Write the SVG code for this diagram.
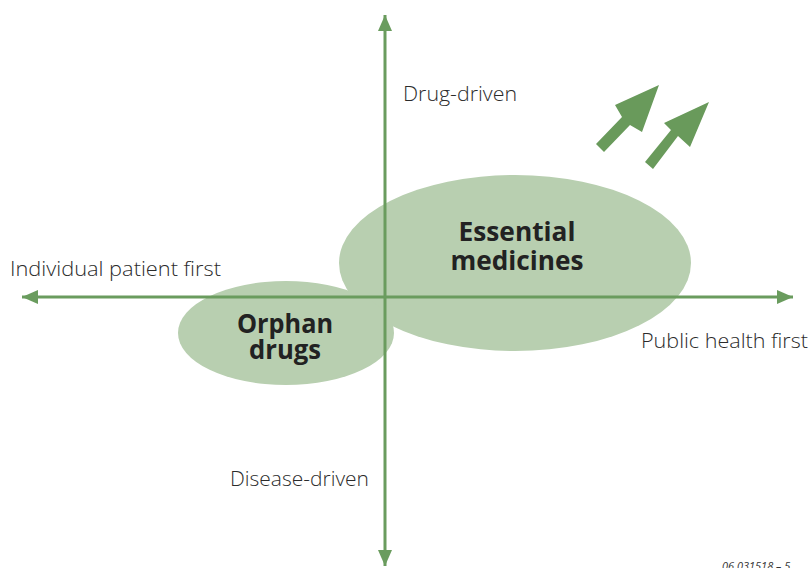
<svg xmlns="http://www.w3.org/2000/svg" width="811" height="568" viewBox="0 0 811 568">
<style>
.lbl{font-family:"Open Sans","Noto Sans","Liberation Sans",sans-serif;font-size:20px;fill:#2b2b2b;font-weight:300}
.big{font-family:"Open Sans","Noto Sans","Liberation Sans",sans-serif;font-size:27px;font-weight:700;fill:#222;text-anchor:middle}
.axis{stroke:#6a9c5e;stroke-width:3;fill:none}
.ell{fill:#b8cfb0}
.arr{fill:#699a5b}
</style>
<defs>
<marker id="ah" viewBox="0 0 16 14" refX="16" refY="7" markerWidth="16" markerHeight="14" markerUnits="userSpaceOnUse" orient="auto">
<path d="M0,0 L16,7 L0,14 Z" fill="#6a9c5e"/>
</marker>
</defs>
<rect width="811" height="568" fill="#fff"/>
<g id="essential-medicines">
<ellipse class="ell" cx="515" cy="263" rx="176" ry="88"/>
</g>
<g id="orphan-drugs">
<ellipse class="ell" cx="286" cy="333" rx="108" ry="52"/>
</g>
<g id="connectors">
<line class="axis" x1="385" y1="297" x2="22" y2="297" marker-end="url(#ah)"/>
<line class="axis" x1="385" y1="297" x2="793" y2="297" marker-end="url(#ah)"/>
<line class="axis" x1="385" y1="297" x2="385" y2="15" marker-end="url(#ah)"/>
<line class="axis" x1="385" y1="297" x2="385" y2="566" marker-end="url(#ah)"/>
</g>
<g id="essential-label">
<text class="big" x="517" y="241" textLength="117" lengthAdjust="spacingAndGlyphs">Essential</text>
<text class="big" x="517" y="270" textLength="133" lengthAdjust="spacingAndGlyphs">medicines</text>
</g>
<g id="orphan-label">
<text class="big" x="285" y="333" textLength="96" lengthAdjust="spacingAndGlyphs">Orphan</text>
<text class="big" x="285" y="359" textLength="72" lengthAdjust="spacingAndGlyphs">drugs</text>
</g>
<g id="trend-arrows">
<polygon class="arr" points="659,85 642,132 630,125 604,152 596,144 622,117 615,105"/>
<polygon class="arr" points="709,102 690,147 678,136 653,169 645,162 671,130 664,123"/>
</g>
<g id="axis-labels">
<text class="lbl" x="403" y="101" textLength="114" lengthAdjust="spacingAndGlyphs">Drug-driven</text>
<text class="lbl" x="10" y="276" textLength="211" lengthAdjust="spacingAndGlyphs">Individual patient first</text>
<text class="lbl" x="641" y="348" textLength="167" lengthAdjust="spacingAndGlyphs">Public health first</text>
<text class="lbl" x="230" y="486" textLength="139" lengthAdjust="spacingAndGlyphs">Disease-driven</text>
</g>
<text x="722" y="570" font-family="Open Sans,Noto Sans,sans-serif" font-size="11" font-style="italic" fill="#333">06.031518 – 5</text>
</svg>
